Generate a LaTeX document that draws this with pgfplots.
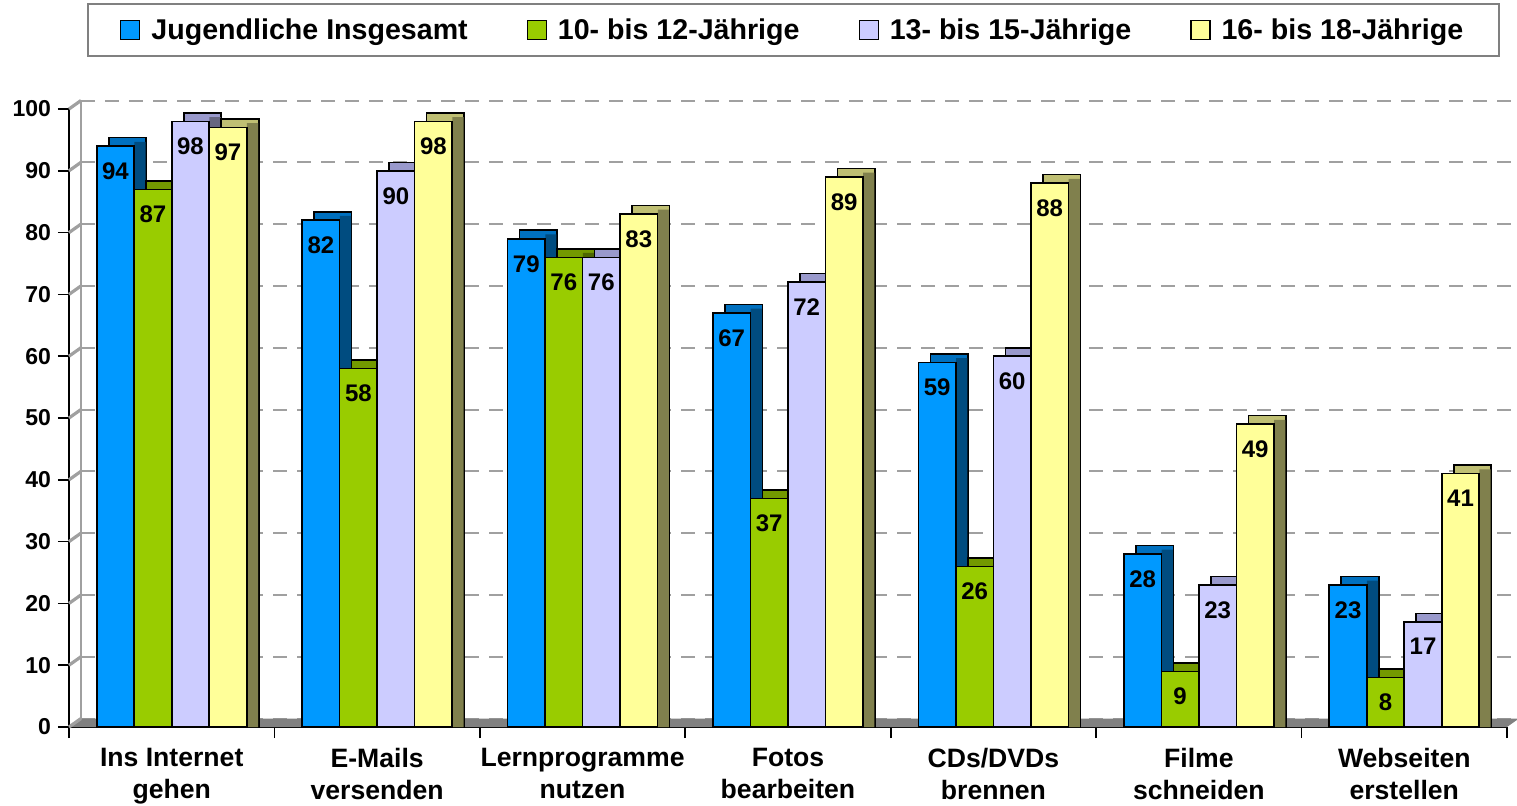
\documentclass[border=0pt]{standalone}
\usepackage{fontspec}
\setmainfont{Liberation Sans}
\usepackage{pgfplots}
\usepackage{pgfplotstable}
\pgfplotsset{compat=1.18}

\definecolor{bluF}{HTML}{0099FF}
\definecolor{bluT}{HTML}{0070BF}
\definecolor{bluS}{HTML}{004C80}
\definecolor{grnF}{HTML}{99CC00}
\definecolor{grnT}{HTML}{739900}
\definecolor{grnS}{HTML}{4D6600}
\definecolor{lavF}{HTML}{CCCCFF}
\definecolor{lavT}{HTML}{9999CC}
\definecolor{lavS}{HTML}{666680}
\definecolor{yelF}{HTML}{FFFF99}
\definecolor{yelT}{HTML}{BFBF73}
\definecolor{yelS}{HTML}{80804D}
\definecolor{gridgray}{HTML}{A0A0A0}
\definecolor{floorgray}{HTML}{808080}

\newcommand{\auml}{\char"00E4{}}

\pgfplotstableread{
x a b c d
0 94 87 98 97
1 82 58 90 98
2 79 76 76 83
3 67 37 72 89
4 59 26 60 88
5 28 9 23 49
6 23 8 17 41
}\datatable

\pgfplotsset{
  topsh/.style={ybar, forget plot, bar width=18.75pt, fill=#1, draw=black, line width=0.8pt},
  sidesh/.style={ybar, forget plot, bar width=5.6pt, fill=#1, draw=none},
  front/.style 2 args={ybar, bar width=18.75pt, fill=#1, draw=black, line width=0.8pt,
    bar shift=#2,
    nodes near coords,
    every node near coord/.append style={font=\fontsize{12}{14}\selectfont\bfseries, text=black, anchor=north, yshift=-4.5pt, xshift=#2}},
}

\begin{document}
\begin{tikzpicture}
\useasboundingbox (-34.5pt,-39pt) rectangle (724pt,363.5pt);
\begin{axis}[
  at={(0,0)}, anchor=south west,
  scale only axis, width=719pt, height=309pt,
  xmin=-0.5, xmax=6.5, ymin=0, ymax=100,
  clip=false,
  axis lines*=left,
  axis line style={black, line width=0.8pt},
  tick align=outside,
  major tick length=5.5pt,
  tick style={black, line width=0.8pt},
  ytick={0,10,...,100},
  xtick={-0.5,0.5,...,6.5},
  xticklabels={,,,,,,,,},
  extra x ticks={0,1,2,3,4,5,6},
  extra x tick labels={{Ins Internet\\gehen},{E-Mails\\versenden},{Lernprogramme\\nutzen},{Fotos\\bearbeiten},{CDs/DVDs\\brennen},{Filme\\schneiden},{Webseiten\\erstellen}},
  extra x tick style={tick style={draw=none}},
  x tick label style={align=center, font=\fontsize{13.3}{16}\selectfont\bfseries, yshift=-1.5pt},
  y tick label style={font=\fontsize{11.5}{13}\selectfont\bfseries},
  /pgf/number format/assume math mode=true,
  ymajorgrids,
  grid style={gridgray, line width=1pt, dash pattern=on 7pt off 5pt, xshift=6pt, yshift=4.25pt},
  legend columns=4,
  legend style={at={(0.504,1)}, anchor=south, yshift=26pt, draw=floorgray, line width=1pt,
    font=\fontsize{14.3}{16}\selectfont\bfseries, inner xsep=16pt, inner ysep=5pt,
    /tikz/every even column/.append style={column sep=27.5pt},
    /tikz/every odd column/.append style={column sep=3.5pt}},
  legend image code/.code={\draw[#1, line width=0.6pt] (0pt,-4.5pt) rectangle (9.5pt,5pt);},
]
% floor and back wall
\fill[floorgray] (axis cs:-0.5,0) -- (axis cs:6.5,0) -- (axis cs:6.5584,1.375) -- (axis cs:-0.4416,1.375) -- cycle;
\draw[gridgray, line width=1pt] (axis cs:-0.4416,1.375) -- (axis cs:-0.4416,101.375);
\pgfplotsinvokeforeach{0,10,...,100}{
  \draw[gridgray, line width=1.6pt] (axis cs:-0.5,#1) -- (axis cs:-0.4416,#1+1.375);
}

% series 1
\addplot[topsh=bluT, bar shift=-22.125pt] table[x=x, y expr=\thisrow{a}+1.375]{\datatable};
\addplot[sidesh=bluS, bar shift=-15.85pt] table[x=x, y expr=\thisrow{a}+0.7]{\datatable};
\addplot[front={bluF}{-28.125pt}] table[x=x, y=a]{\datatable};
\addlegendentry{Jugendliche Insgesamt}
% series 2
\addplot[topsh=grnT, bar shift=-3.375pt] table[x=x, y expr=\thisrow{b}+1.375]{\datatable};
\addplot[sidesh=grnS, bar shift=2.9pt] table[x=x, y expr=\thisrow{b}+0.7]{\datatable};
\addplot[front={grnF}{-9.375pt}] table[x=x, y=b]{\datatable};
\addlegendentry{10- bis 12-J\auml hrige}
% series 3
\addplot[topsh=lavT, bar shift=15.375pt] table[x=x, y expr=\thisrow{c}+1.375]{\datatable};
\addplot[sidesh=lavS, bar shift=21.65pt] table[x=x, y expr=\thisrow{c}+0.7]{\datatable};
\addplot[front={lavF}{9.375pt}] table[x=x, y=c]{\datatable};
\addlegendentry{13- bis 15-J\auml hrige}
% series 4
\addplot[topsh=yelT, bar shift=34.125pt] table[x=x, y expr=\thisrow{d}+1.375]{\datatable};
\addplot[sidesh=yelS, bar shift=40.4pt] table[x=x, y expr=\thisrow{d}+0.7]{\datatable};
\addplot[front={yelF}{28.125pt}] table[x=x, y=d]{\datatable};
\addlegendentry{16- bis 18-J\auml hrige}
\end{axis}
\end{tikzpicture}
\end{document}
